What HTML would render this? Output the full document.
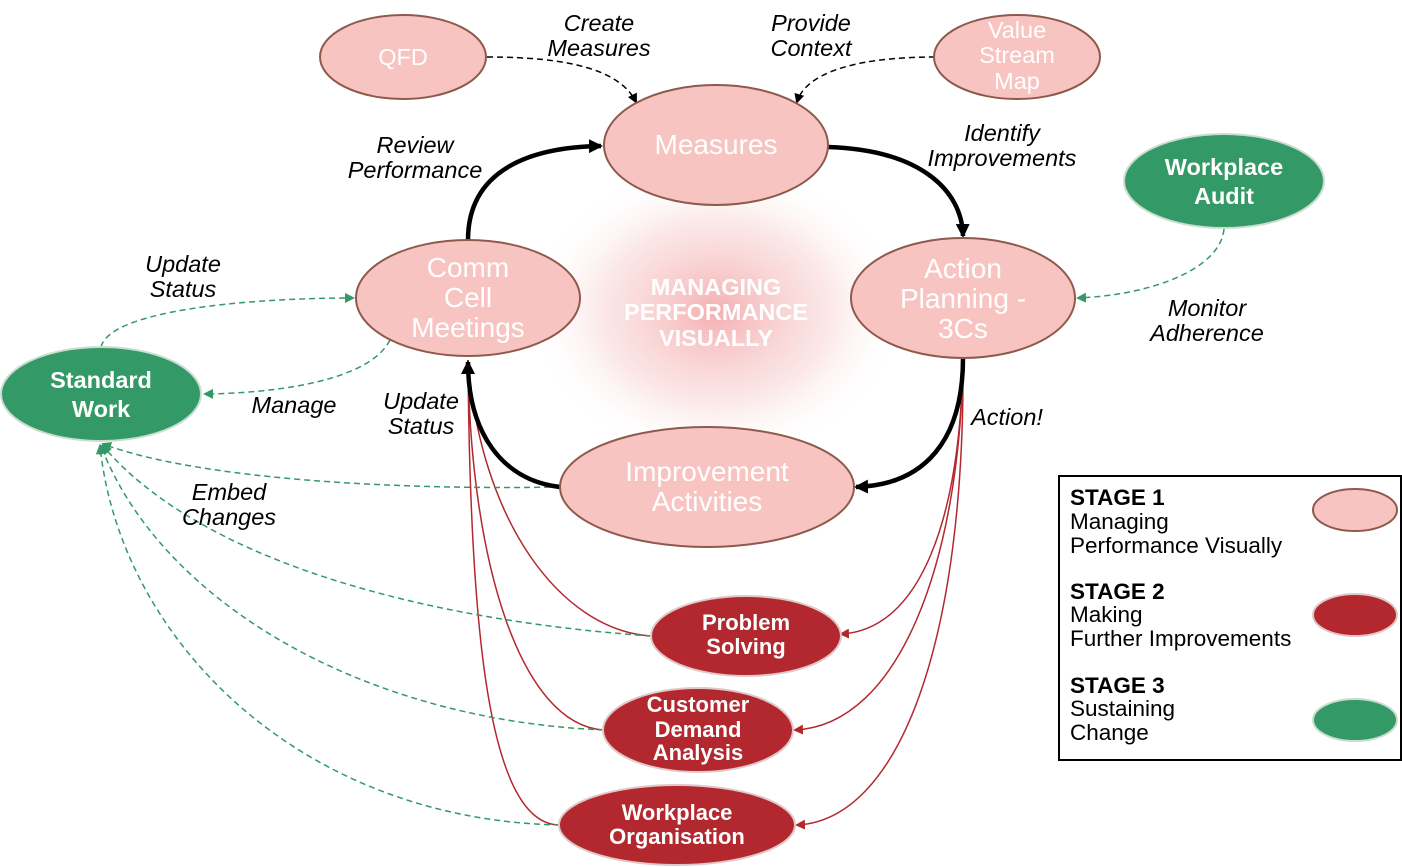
<!DOCTYPE html>
<html><head><meta charset="utf-8"><style>
html,body{margin:0;padding:0;background:#fff;}
svg{display:block;font-family:"Liberation Sans",sans-serif;}
.it{font-style:italic;font-size:23.5px;fill:#000;}
.pk{fill:#f8c4c2;stroke:#8e5a4c;stroke-width:2;}
.gr{fill:#339966;stroke:#c9ddd0;stroke-width:2;}
.rd{fill:#b3282e;stroke:#e0c8c8;stroke-width:2;}
.wt{fill:#fff;font-size:28px;text-anchor:middle;}
.wb{fill:#fff;font-size:23.5px;font-weight:bold;text-anchor:middle;}
</style></head><body>
<svg width="1402" height="867" viewBox="0 0 1402 867">
<defs>
<radialGradient id="glow" cx="50%" cy="50%" r="50%">
<stop offset="0" stop-color="#f3a6a8" stop-opacity="0.9"/>
<stop offset="0.6" stop-color="#f8d0d0" stop-opacity="0.5"/>
<stop offset="1" stop-color="#fff" stop-opacity="0"/>
</radialGradient>
<marker id="ab" markerWidth="10" markerHeight="10" refX="8" refY="5" orient="auto" markerUnits="userSpaceOnUse"><path d="M0,0 L10,5 L0,10 Z" fill="#000"/></marker>
<marker id="abig" markerWidth="16" markerHeight="16" refX="12" refY="8" orient="auto" markerUnits="userSpaceOnUse"><path d="M0,1 L14,8 L0,15 Z" fill="#000"/></marker>
<marker id="ar" markerWidth="10" markerHeight="10" refX="8" refY="5" orient="auto" markerUnits="userSpaceOnUse"><path d="M0,0 L10,5 L0,10 Z" fill="#b3282e"/></marker>
<marker id="ag" markerWidth="10" markerHeight="10" refX="8" refY="5" orient="auto" markerUnits="userSpaceOnUse"><path d="M0,0 L10,5 L0,10 Z" fill="#339966"/></marker>
</defs>
<ellipse cx="716" cy="312" rx="190" ry="150" fill="url(#glow)"/>

<g fill="none" stroke="#b3282e" stroke-width="1.5">
<path d="M468,360 C480,520 560,630 651,636"/>
<path d="M468,360 C470,560 520,725 604,730"/>
<path d="M468,360 C470,640 490,825 560,825"/>
<path d="M963,360 C960,520 920,630 841,634" marker-end="url(#ar)"/>
<path d="M963,360 C960,560 900,725 795,730" marker-end="url(#ar)"/>
<path d="M963,360 C965,640 900,820 797,825" marker-end="url(#ar)"/>
</g>
<g fill="none" stroke="#339966" stroke-width="1.5" stroke-dasharray="6,4">
<path d="M101,347 C110,310 250,298 353,298" marker-end="url(#ag)"/>
<path d="M390,340 C370,380 280,393 205,394" marker-end="url(#ag)"/>
<path d="M560,487 C400,490 200,480 103,444" marker-end="url(#ag)"/>
<path d="M651,636 C420,620 200,560 103,446" marker-end="url(#ag)"/>
<path d="M604,730 C360,720 160,600 101,446" marker-end="url(#ag)"/>
<path d="M560,825 C300,820 120,640 100,446" marker-end="url(#ag)"/>
<path d="M1224,229 C1220,270 1150,295 1078,298" marker-end="url(#ag)"/>
</g>
<g fill="none" stroke="#000" stroke-width="1.5" stroke-dasharray="6,4">
<path d="M487,57 C570,57 620,70 636,102" marker-end="url(#ab)"/>
<path d="M935,57 C850,57 805,75 797,102" marker-end="url(#ab)"/>
</g>
<g fill="none" stroke="#000" stroke-width="4.5">
<path d="M468,240 C468,170 530,147 601,146" marker-end="url(#abig)"/>
<path d="M828,147 C920,150 962,190 963,236" marker-end="url(#abig)"/>
<path d="M963,358 C963,440 925,485 856,487" marker-end="url(#abig)"/>
<path d="M560,487 C500,480 468,430 468,362" marker-end="url(#abig)"/>
</g>

<ellipse class="pk" cx="403" cy="57" rx="83" ry="42"/>
<text class="wt" style="font-size:23.5px" x="403" y="65">QFD</text>
<ellipse class="pk" cx="1017" cy="57" rx="83" ry="42"/>
<text class="wt" style="font-size:23.5px" x="1017" y="38">Value</text>
<text class="wt" style="font-size:23.5px" x="1017" y="63">Stream</text>
<text class="wt" style="font-size:23.5px" x="1017" y="89">Map</text>
<ellipse class="pk" cx="716" cy="145" rx="112" ry="60"/>
<text class="wt" x="716" y="154">Measures</text>
<ellipse class="pk" cx="468" cy="298" rx="112" ry="58"/>
<text class="wt" x="468" y="277">Comm</text>
<text class="wt" x="468" y="307">Cell</text>
<text class="wt" x="468" y="337">Meetings</text>
<ellipse class="pk" cx="963" cy="298" rx="112" ry="60"/>
<text class="wt" x="963" y="278">Action</text>
<text class="wt" x="963" y="308">Planning -</text>
<text class="wt" x="963" y="338">3Cs</text>
<ellipse class="pk" cx="707" cy="487" rx="147" ry="60"/>
<text class="wt" x="707" y="481">Improvement</text>
<text class="wt" x="707" y="511">Activities</text>

<text class="wb" x="716" y="295">MANAGING</text>
<text class="wb" x="716" y="320">PERFORMANCE</text>
<text class="wb" x="716" y="346">VISUALLY</text>

<ellipse class="gr" cx="1224" cy="181" rx="100" ry="47"/>
<text class="wb" x="1224" y="175">Workplace</text>
<text class="wb" x="1224" y="204">Audit</text>
<ellipse class="gr" cx="101" cy="394" rx="100" ry="47"/>
<text class="wb" x="101" y="388">Standard</text>
<text class="wb" x="101" y="417">Work</text>

<ellipse class="rd" cx="746" cy="636" rx="95" ry="40"/>
<text class="wb" style="font-size:22px" x="746" y="630">Problem</text>
<text class="wb" style="font-size:22px" x="746" y="654">Solving</text>
<ellipse class="rd" cx="698" cy="730" rx="95" ry="42"/>
<text class="wb" style="font-size:22px" x="698" y="712">Customer</text>
<text class="wb" style="font-size:22px" x="698" y="737">Demand</text>
<text class="wb" style="font-size:22px" x="698" y="760">Analysis</text>
<ellipse class="rd" cx="677" cy="825" rx="118" ry="40"/>
<text class="wb" style="font-size:22px" x="677" y="820">Workplace</text>
<text class="wb" style="font-size:22px" x="677" y="844">Organisation</text>

<g class="it" text-anchor="middle">
<text x="599" y="31">Create</text><text x="599" y="56">Measures</text>
<text x="811" y="31">Provide</text><text x="811" y="56">Context</text>
<text x="415" y="153">Review</text><text x="415" y="178">Performance</text>
<text x="1002" y="141">Identify</text><text x="1002" y="166">Improvements</text>
<text x="183" y="272">Update</text><text x="183" y="297">Status</text>
<text x="1207" y="316">Monitor</text><text x="1207" y="341">Adherence</text>
<text x="294" y="413">Manage</text>
<text x="421" y="409">Update</text><text x="421" y="434">Status</text>
<text x="1007" y="425">Action!</text>
<text x="229" y="500">Embed</text><text x="229" y="525">Changes</text>
</g>

<rect x="1059" y="476" width="342" height="284" fill="#fff" stroke="#000" stroke-width="2"/>
<g font-size="22.5" fill="#000">
<text x="1070" y="505" font-weight="bold">STAGE 1</text>
<text x="1070" y="529">Managing</text>
<text x="1070" y="553">Performance Visually</text>
<text x="1070" y="599" font-weight="bold">STAGE 2</text>
<text x="1070" y="622">Making</text>
<text x="1070" y="646">Further Improvements</text>
<text x="1070" y="693" font-weight="bold">STAGE 3</text>
<text x="1070" y="716">Sustaining</text>
<text x="1070" y="740">Change</text>
</g>
<ellipse class="pk" cx="1355" cy="510" rx="42" ry="21"/>
<ellipse class="rd" cx="1355" cy="615" rx="42" ry="21"/>
<ellipse class="gr" cx="1355" cy="720" rx="42" ry="21"/>
</svg>
</body></html>
